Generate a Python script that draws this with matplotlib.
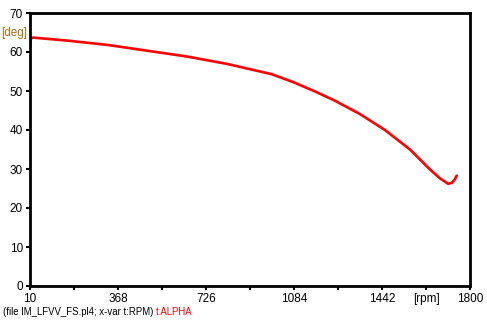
import matplotlib
matplotlib.use("Agg")
import matplotlib.pyplot as plt

# values
rpm = [10, 13, 22, 165, 327, 490, 653, 815, 994, 1084, 1169, 1251, 1352,
       1454, 1556, 1597, 1637, 1678, 1711, 1727, 1739, 1746]
alpha = [61.0, 63.4, 63.7, 62.9, 61.8, 60.3, 58.8, 56.9, 54.3, 52.2, 49.9,
         47.5, 44.1, 40.0, 35.0, 32.4, 29.9, 27.6, 26.2, 26.5, 27.4, 28.3]

x_ticks = [10, 189, 368, 547, 726, 905, 1084, 1263, 1442, 1621, 1800]
x_labels = ["10", "", "368", "", "726", "", "1084", "", "1442", "[rpm]", "1800"]
y_ticks = [0, 10, 20, 30, 40, 50, 60, 70]

plt.rcParams["font.family"] = ["Liberation Sans", "DejaVu Sans"]

fig = plt.figure(figsize=(4.87, 3.2), dpi=100)
ax = fig.add_axes([30 / 487, 34 / 320, 440 / 487, 273 / 320])

ax.plot(rpm, alpha, color="#ff0000", lw=1.9, solid_capstyle="round",
        solid_joinstyle="round")

ax.set_xlim(10, 1800)
ax.set_ylim(0, 70)
ax.set_xticks(x_ticks)
ax.set_xticklabels(x_labels)
ax.set_yticks(y_ticks)
ax.tick_params(length=3, width=1.5, labelsize=8.5, pad=2, colors="#000000")
for tl in ax.xaxis.get_major_ticks():
    if tl.label1.get_text() == "[rpm]":
        tl.label1.set_x(1640)

# unit label sits where the 65 tick would be
fig.text(27 / 487, 1 - 33 / 320, "[deg]", fontsize=8.5, ha="right",
         va="center", color="#b86a10")

for s in ax.spines.values():
    s.set_linewidth(2)

fig.text(3 / 487, 1 - 312 / 320, "(file IM_LFVV_FS.pl4; x-var t:RPM)",
         fontsize=6.9, va="center", color="#000000")
fig.text(156 / 487, 1 - 312 / 320, "t:ALPHA", fontsize=6.9, va="center",
         color="#ff0000")

fig.savefig("out.png", dpi=100)
